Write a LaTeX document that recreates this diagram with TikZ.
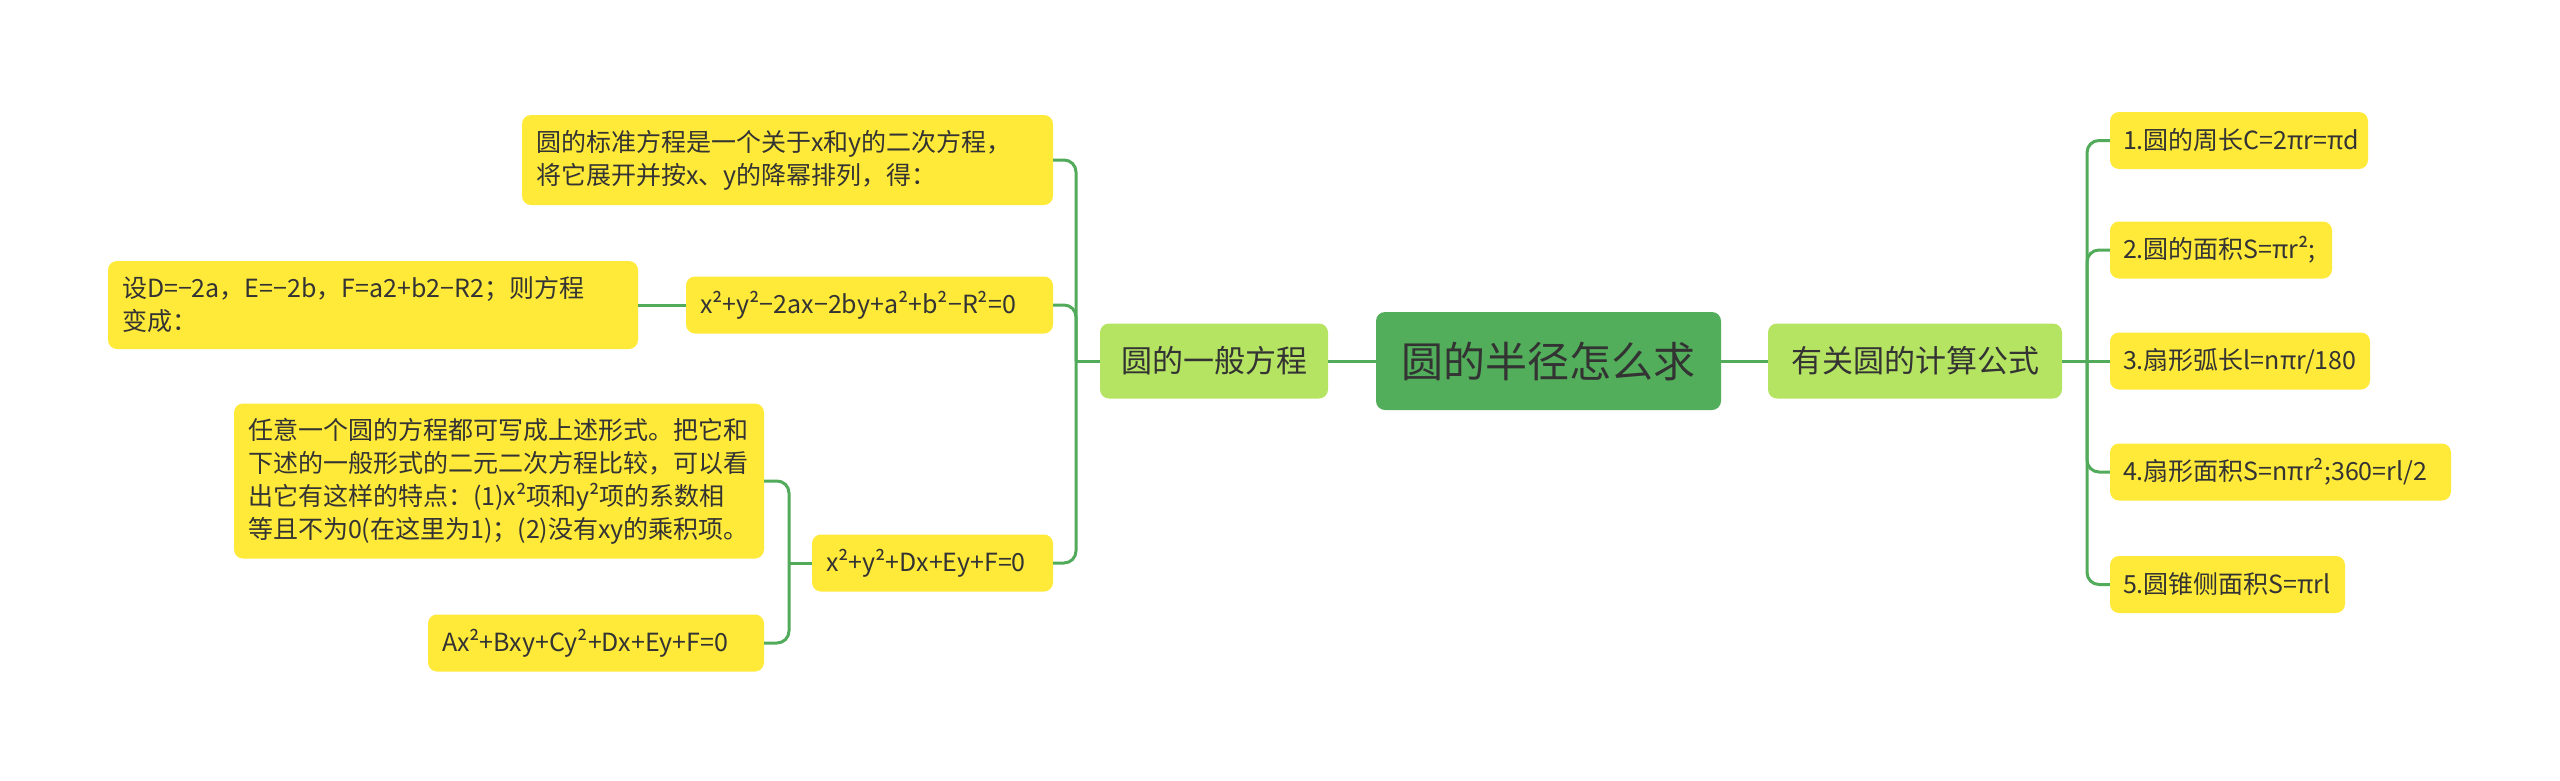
\documentclass[tikz,border=0pt]{standalone}
\usepackage{fontspec}
\setmainfont{Noto Sans CJK SC}
\definecolor{lineg}{HTML}{52AB5B}
\definecolor{rootfill}{HTML}{52AE5A}
\definecolor{lonefill}{HTML}{B5E463}
\definecolor{leafy}{HTML}{FFEA3A}
\definecolor{txt}{HTML}{333333}
\begin{document}
\begin{tikzpicture}[x=1pt,y=-1pt,
  conn/.style={draw=lineg, line width=3pt, rounded corners=12pt},
  box/.style={rounded corners=9pt, text=txt, inner ysep=0pt, anchor=center},
  rootbox/.style={box, fill=rootfill, font=\fontsize{42}{50}\selectfont, align=center, inner xsep=0pt},
  lonebox/.style={box, fill=lonefill, font=\fontsize{31}{38}\selectfont, align=center, inner xsep=0pt},
  lleaf/.style={box, fill=leafy, font=\fontsize{25}{33}\selectfont, align=left, inner xsep=14pt},
  rleaf/.style={box, fill=leafy, font=\fontsize{25}{32}\selectfont, align=left, inner xsep=13pt, minimum height=57pt}
]
\useasboundingbox (0,0) rectangle (2560,780);

% central and first level
\node[rootbox, minimum width=345pt, minimum height=98pt] (root) at (1548.5,361) {圆的半径怎么求};
\node[lonebox, minimum width=228pt, minimum height=75pt] (L1) at (1214,361) {圆的一般方程};
\node[lonebox, minimum width=294pt, minimum height=75pt] (R1) at (1915,361) {有关圆的计算公式};

% left branch
\node[lleaf, text width=503pt, minimum height=90pt] (std) at (787.5,160) {圆的标准方程是一个关于x和y的二次方程，\\将它展开并按x、y的降幂排列，得：};
\node[lleaf, text width=339pt, minimum height=57pt] (eq1) at (869.5,305) {x²+y²−2ax−2by+a²+b²−R²=0};
\node[lleaf, text width=502pt, minimum height=88pt] (setD) at (373,305) {设D=−2a，E=−2b，F=a2+b2−R2；则方程\\变成：};
\node[lleaf, text width=213pt, minimum height=57pt] (eq2) at (932.5,563) {x²+y²+Dx+Ey+F=0};
\node[lleaf, text width=502pt, minimum height=155pt] (any) at (499,481) {任意一个圆的方程都可写成上述形式。把它和\\下述的一般形式的二元二次方程比较，可以看\\出它有这样的特点：(1)x²项和y²项的系数相\\等且不为0(在这里为1)；(2)没有xy的乘积项。};
\node[lleaf, text width=308pt, minimum height=57pt] (Ax) at (596,643) {Ax²+Bxy+Cy²+Dx+Ey+F=0};

% right branch
\node[rleaf, text width=232pt] (r1) at (2239,140.5) {1.圆的周长C=2πr=πd};
\node[rleaf, text width=196pt] (r2) at (2221,250) {2.圆的面积S=πr²;};
\node[rleaf, text width=234pt] (r3) at (2240,361) {3.扇形弧长l=nπr/180};
\node[rleaf, text width=315pt] (r4) at (2280.5,472) {4.扇形面积S=nπr²;360=rl/2};
\node[rleaf, text width=209pt] (r5) at (2227.5,584.5) {5.圆锥侧面积S=πrl};

% spine coordinates
\coordinate (ls) at (1076,361);
\coordinate (ss) at (789,563);
\coordinate (rs) at (2087,361);

% connectors
\draw[conn] (root.west) -- (L1.east);
\draw[conn] (root.east) -- (R1.west);

\draw[conn] (L1.west) -- (ls);
\draw[conn] (ls) |- (std.east);
\draw[conn] (ls) |- (eq1.east);
\draw[conn] (ls) |- (eq2.east);
\draw[conn] (eq1.west) -- (setD.east);
\draw[conn] (eq2.west) -- (ss);
\draw[conn] (ss) |- (any.east);
\draw[conn] (ss) |- (Ax.east);

\draw[conn] (R1.east) -- (rs);
\draw[conn] (rs) |- (r1.west);
\draw[conn] (rs) |- (r2.west);
\draw[conn] (rs) -- (r3.west);
\draw[conn] (rs) |- (r4.west);
\draw[conn] (rs) |- (r5.west);
\end{tikzpicture}
\end{document}
